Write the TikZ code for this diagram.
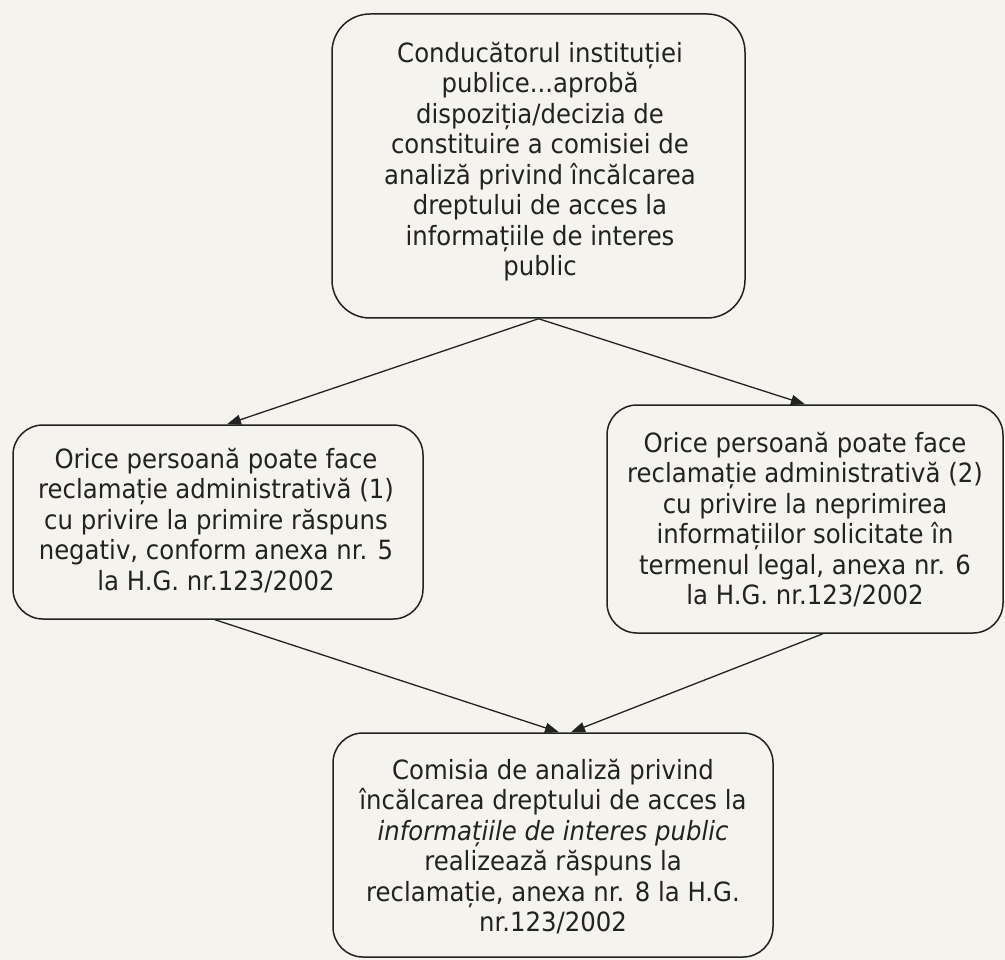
\documentclass[tikz,border=0pt]{standalone}
\usepackage{fontspec}
\setmainfont{DejaVu Sans}[FakeStretch=0.92]
\usetikzlibrary{arrows.meta}
\definecolor{paper}{RGB}{245,243,237}
\definecolor{ink}{RGB}{34,34,34}
\begin{document}
\begin{tikzpicture}[x=1pt,y=-1pt,
  box/.style={draw=ink, line width=1.5pt, rounded corners=30pt, inner sep=0pt},
  txt/.style={anchor=north, align=center, inner sep=0pt, text=ink, font=\fontsize{26.5}{30.5}\selectfont},
  arr/.style={draw=ink, line width=1.3pt, -{Triangle[length=14pt,width=10pt]}}]
\fill[paper] (0,0) rectangle (1005,960);
\useasboundingbox (0,0) rectangle (1005,960);
% boxes
\node[box, rounded corners=38pt, minimum width=413pt, minimum height=304pt] (top) at (538.5,166) {};
\node[box, minimum width=410pt, minimum height=194pt] (lbox) at (218,522) {};
\node[box, minimum width=396pt, minimum height=228pt] (rbox) at (805,519) {};
\node[box, minimum width=440pt, minimum height=224pt] (bbox) at (553,845) {};
% texts
\node[txt] (toptxt) at (540,42) {Conducătorul instituției\\publice...aprobă\\dispoziția/decizia de\\constituire a comisiei de\\analiză privind încălcarea\\dreptului de acces la\\informațiile de interes\\public};
\node[txt] (ltxt) at (216,448) {Orice persoană poate face\\reclamație administrativă (1)\\cu privire la primire răspuns\\negativ, conform anexa nr. 5\\la H.G. nr.123/2002};
\node[txt] (rtxt) at (805,432) {Orice persoană poate face\\reclamație administrativă (2)\\cu privire la neprimirea\\informațiilor solicitate în\\termenul legal, anexa nr. 6\\la H.G. nr.123/2002};
\node[txt] (btxt) at (553,759) {Comisia de analiză privind\\încălcarea dreptului de acces la\\\textit{informațiile de interes public}\\realizează răspuns la\\reclamație, anexa nr. 8 la H.G.\\nr.123/2002};
% connector anchors
\coordinate (la) at (227,0);
\coordinate (ra) at (805,0);
\coordinate (ls) at (215,0);
\coordinate (rs) at (823,0);
\coordinate (bl) at (559,0);
\coordinate (br) at (571,0);
% connectors
\draw[arr] (top.south) -- (lbox.north -| la);
\draw[arr] (top.south) -- (rbox.north -| ra);
\draw[arr] (lbox.south -| ls) -- (bbox.north -| bl);
\draw[arr] (rbox.south -| rs) -- (bbox.north -| br);
\end{tikzpicture}
\end{document}
